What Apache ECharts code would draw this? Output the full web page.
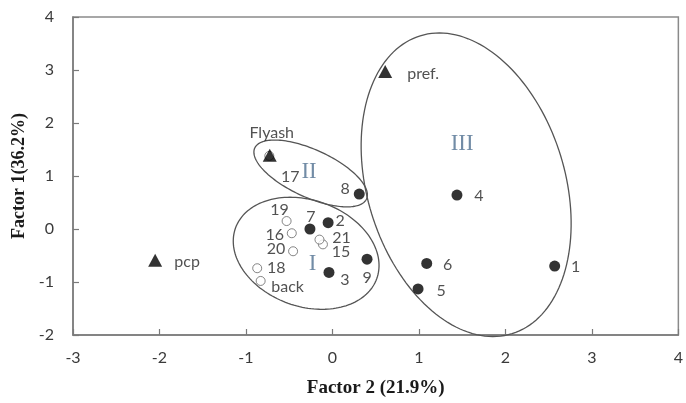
<!DOCTYPE html>
<html>
<head>
<meta charset="utf-8">
<script src="https://cdn.jsdelivr.net/npm/echarts@6/dist/echarts.min.js"></script>
<style>
html,body{margin:0;padding:0;background:#fff;}
#chart{width:686px;height:403px;}
</style>
</head>
<body>
<div id="chart"></div>
<script>
// ---- data ----
const sampleNames = ['1','2','3','4','5','6','7','8','9'];
const sampleX = [2.57, -0.05, -0.04, 1.44, 0.99, 1.09, -0.26, 0.31, 0.40];
const sampleY = [-0.70, 0.12, -0.82, 0.64, -1.13, -0.65, 0.00, 0.66, -0.57];

const openNames = ['15','16','17','18','19','20','21','back'];
const openX = [-0.11, -0.47, -0.73, -0.87, -0.53, -0.455, -0.15, -0.83];
const openY = [-0.29, -0.08, 1.38, -0.74, 0.15, -0.42, -0.20, -0.98];

const sourceNames = ['pref.','Flyash','pcp'];
const sourceX = [0.61, -0.725, -2.05];
const sourceY = [2.97, 1.39, -0.59];

const groupNames = ['I','II','III'];
const groupX = [-0.23, -0.27, 1.50];
const groupY = [-0.655, 1.08, 1.61];

// ellipses: centre, end of first semi-axis, end of second semi-axis (data units)
const ellipseCx = [-0.304, -0.252, 1.546];
const ellipseCy = [-0.458, 1.048, 0.835];
const ellipseAx = [0.513, 0.394, 2.077];
const ellipseAy = [-0.934, 0.567, -1.975];
const ellipseBx = [-0.097, -0.137, 2.638];
const ellipseBy = [0.486, 1.456, 1.387];

const xTicks = [-3, -2, -1, 0, 1, 2, 3, 4];
const yTicks = [-2, -1, 0, 1, 2, 3, 4];

// ---- label placement (style) ----
const labelOffsets = {
  '1':[21,1], '2':[12,-2], '3':[16,7], '4':[22,1], '5':[23,2], '6':[21,1],
  '7':[1,-12], '8':[-14,-5], '9':[0,19],
  '15':[18,7], '16':[-17,2], '17':[21,21], '18':[19,0], '19':[-7,-11],
  '20':[-17,-2], '21':[22,-2], 'back':[27,6],
  'pref.':[38,2], 'Flyash':[2,-22], 'pcp':[32,2]
};

function pts(names, xs, ys) {
  return names.map((n, i) => ({
    name: n,
    value: [xs[i], ys[i]],
    label: { offset: labelOffsets[n] || [0,0] }
  }));
}

const labelBase = {
  show: true, position: 'inside', formatter: '{b}',
  color: '#262626', fontFamily: 'Lato', fontSize: 16,
  align: 'center', verticalAlign: 'middle'
};

const ellipseData = ellipseCx.map((c, i) => [c, ellipseCy[i], ellipseAx[i], ellipseAy[i], ellipseBx[i], ellipseBy[i]]);

const chart = echarts.init(document.getElementById('chart'), null, {renderer: 'canvas'});
chart.setOption({
  animation: false,
  backgroundColor: '#fff',
  grid: { left: 73, right: 2, top: 17, bottom: 65, show: true, borderColor: '#8a8a8a', borderWidth: 1.5 },
  xAxis: {
    type: 'value', min: xTicks[0], max: xTicks[xTicks.length-1], interval: 1,
    axisLine: { show: true, onZero: false, lineStyle: { color: '#7a7a7a', width: 1.5 } },
    axisTick: { show: true, inside: true, length: 6, lineStyle: { color: '#7a7a7a', width: 1.2 } },
    axisLabel: { color: '#3a3a3a', fontFamily: 'Lato', fontSize: 16, margin: 15 },
    splitLine: { show: false },
    name: 'Factor 2 (21.9%)', nameLocation: 'middle', nameGap: 44,
    nameTextStyle: { fontFamily: 'Liberation Serif', fontWeight: 'bold', fontSize: 19, color: '#1a1a1a' }
  },
  yAxis: {
    type: 'value', min: yTicks[0], max: yTicks[yTicks.length-1], interval: 1,
    axisLine: { show: true, onZero: false, lineStyle: { color: '#7a7a7a', width: 1.5 } },
    axisTick: { show: true, inside: true, length: 6, lineStyle: { color: '#7a7a7a', width: 1.2 } },
    axisLabel: { color: '#3a3a3a', fontFamily: 'Lato', fontSize: 16, margin: 19 },
    splitLine: { show: false },
    name: 'Factor 1(36.2%)', nameLocation: 'middle', nameGap: 45,
    nameTextStyle: { fontFamily: 'Liberation Serif', fontWeight: 'bold', fontSize: 18, color: '#1a1a1a' }
  },
  series: [
    {
      type: 'custom', z: 1, silent: true,
      data: ellipseData,
      renderItem: function (params, api) {
        const c = api.coord([api.value(0), api.value(1)]);
        const a = api.coord([api.value(2), api.value(3)]);
        const b = api.coord([api.value(4), api.value(5)]);
        const ax = a[0]-c[0], ay = a[1]-c[1], bx = b[0]-c[0], by = b[1]-c[1];
        const points = [];
        const n = 160;
        for (let k = 0; k <= n; k++) {
          const t = 2*Math.PI*k/n;
          points.push([c[0] + ax*Math.cos(t) + bx*Math.sin(t), c[1] + ay*Math.cos(t) + by*Math.sin(t)]);
        }
        return { type: 'polyline', shape: { points: points }, style: { fill: null, stroke: '#555', lineWidth: 1.3 } };
      }
    },
    {
      type: 'scatter', z: 3, symbol: 'circle', symbolSize: 9,
      itemStyle: { color: '#fff', borderColor: '#666', borderWidth: 1 },
      label: labelBase,
      data: pts(openNames, openX, openY)
    },
    {
      type: 'scatter', z: 4, symbol: 'triangle', symbolSize: [14, 13],
      itemStyle: { color: '#000' },
      label: labelBase,
      data: pts(sourceNames, sourceX, sourceY)
    },
    {
      type: 'scatter', z: 4, symbol: 'circle', symbolSize: 11,
      itemStyle: { color: '#000' },
      label: labelBase,
      data: pts(sampleNames, sampleX, sampleY)
    },
    {
      type: 'scatter', z: 2, symbolSize: 0, silent: true,
      label: { show: true, position: 'inside', formatter: '{b}', color: '#4f6f90',
               fontFamily: 'Liberation Serif', fontSize: 23, align: 'center', verticalAlign: 'middle' },
      data: groupNames.map((n, i) => ({ name: n, value: [groupX[i], groupY[i]] }))
    }
  ]
});
</script>
</body>
</html>
